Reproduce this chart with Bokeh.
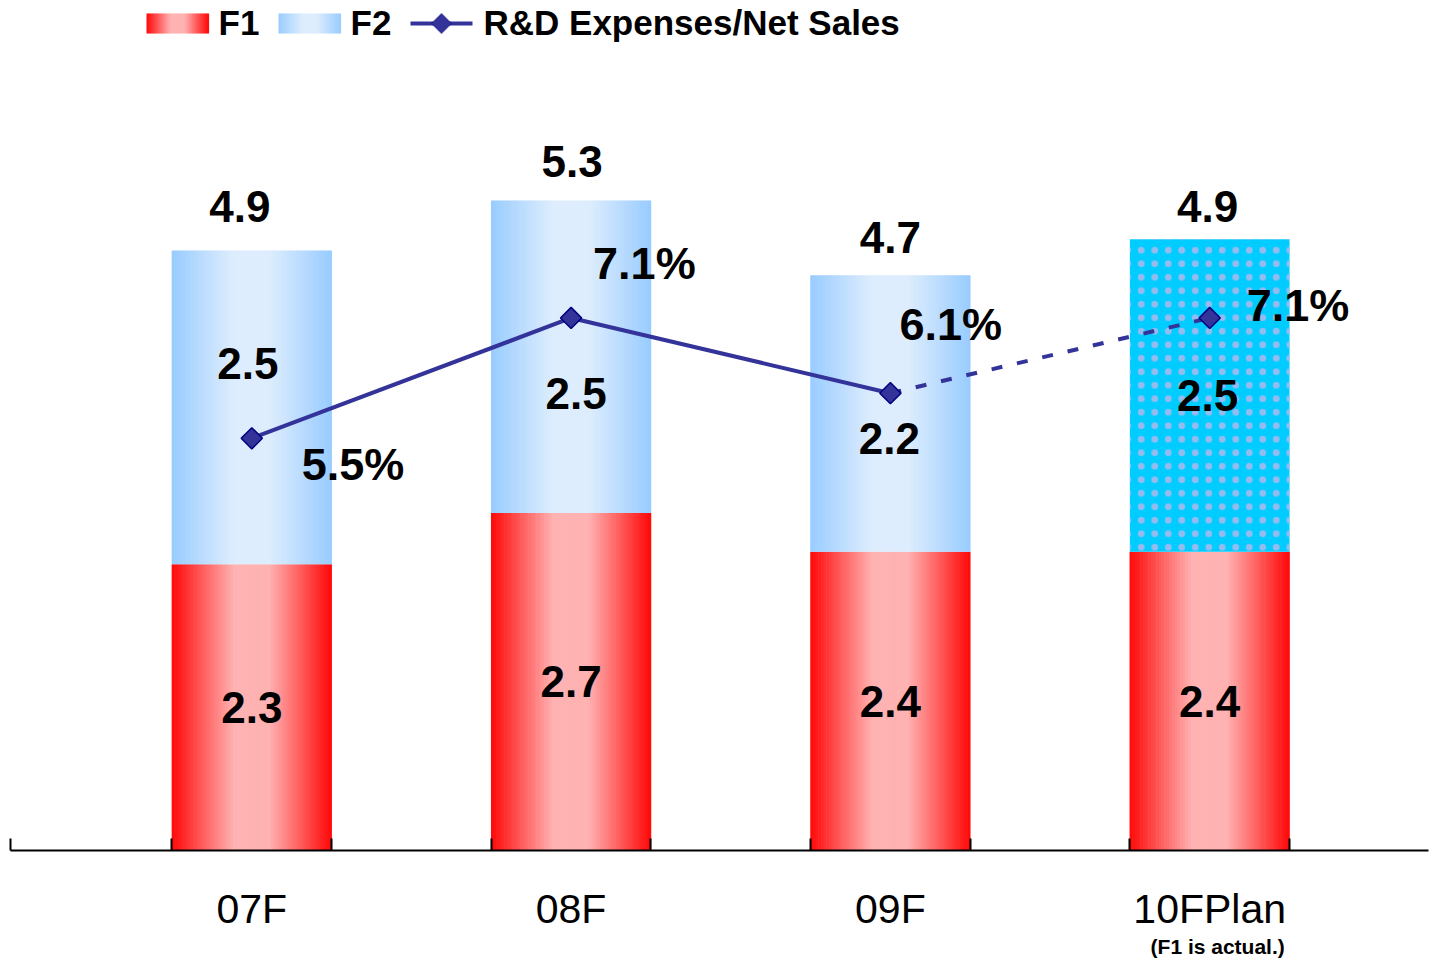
import numpy as np
from bokeh.plotting import figure
from bokeh.models import (ColumnDataSource, Range1d, LinearAxis, FixedTicker,
                          Label, BoxAnnotation, PolyAnnotation)
from bokeh.core.properties import value
from bokeh.embed import file_html
from bokeh.resources import INLINE

# ---------------- data ----------------
categories = ["07F", "08F", "09F", "10FPlan"]
f1 = [2.30, 2.71, 2.40, 2.40]
f2 = [2.52, 2.51, 2.22, 2.51]
is_plan = [False, False, False, True]
total_labels = ["4.9", "5.3", "4.7", "4.9"]
ratio = [5.5, 7.1, 6.1, 7.1]
ratio_labels = ["5.5%", "7.1%", "6.1%", "7.1%"]
plan_note = "(F1 is actual.)"
series_names = ["F1", "F2", "R&D Expenses/Net Sales"]

# ---------------- layout / style ----------------
W, H = 1430, 960
FRAME_L, FRAME_R = 10, 2
FRAME_H = 850
BAR_PX = 124.5      # px per unit of the bar scale
PCT_PX = 75.2       # px per % of the ratio scale
PCT_START = 0.0186
UNIT_PX = 319.3
X_START = -0.7557
X_END = X_START + (W - FRAME_L - FRAME_R) / UNIT_PX
BAR_W = 0.5
N_STRIPS = 60
FONT = "Liberation Sans"
NOTE_DX_PX = 8

total_dx = [-12, 1, 0, -2]
total_dy = [-44, -39, -38, -33]
f2_dx = [-4, 5, -1, -2]
f2_dy = [-44, 37, 25, 0]
pct_dx = [50, 22, 9, 37]
pct_dy = [26, -54, -69, -12]

# legend layout (pixels from the top-left of the picture)
LEG_Y = 23
LEG_SW_H = 20
LEG_SW_W = 62
leg_swatch_x = [146, 278]
leg_line_x = 410
leg_text_x = [218, 350, 483]

RED_C, RED_E = (255, 178, 178), (255, 8, 8)
BLUE_C, BLUE_E = (222, 237, 253), (153, 204, 255)
PLAN_FILL = "#00ccff"
LINE_C = "#333399"
MARK_EDGE = "#000080"


def gradient(center, edge, n):
    pos = (np.arange(n) + 0.5) / n
    t = np.abs(pos - 0.5) * 2
    f = np.clip((t - 0.22) / 0.78, 0, 1)
    c = np.array(center)[None, :] * (1 - f)[:, None] + np.array(edge)[None, :] * f[:, None]
    return ["#%02x%02x%02x" % tuple(int(round(v)) for v in row) for row in c]


def sx(px):   # picture px -> frame screen units
    return px - FRAME_L


def sy(py):
    return FRAME_H - py


idx = np.arange(len(categories))
f1a = np.array(f1)
f2a = np.array(f2)
tops = f1a + f2a

p = figure(width=W, height=H, output_backend="svg", toolbar_location=None,
           x_range=Range1d(X_START, X_END), y_range=Range1d(0, FRAME_H / BAR_PX),
           x_axis_type=None, y_axis_type=None,
           min_border_left=FRAME_L, min_border_right=FRAME_R, min_border_top=0,
           min_border_bottom=H - FRAME_H)
p.outline_line_color = None
p.background_fill_color = "white"
p.border_fill_color = "white"
p.extra_y_ranges = {"pct": Range1d(PCT_START, PCT_START + FRAME_H / PCT_PX)}

# ---------- bars as gradient strips ----------
offs = (np.arange(N_STRIPS) + 0.5) / N_STRIPS * BAR_W - BAR_W / 2
sw = BAR_W / N_STRIPS + 0.002
red_cols = gradient(RED_C, RED_E, N_STRIPS)
blue_cols = gradient(BLUE_C, BLUE_E, N_STRIPS)

n = len(categories)
f1_src = ColumnDataSource(dict(
    x=np.repeat(idx, N_STRIPS) + np.tile(offs, n),
    top=np.repeat(f1a, N_STRIPS),
    color=np.tile(red_cols, n)))
p.vbar(x="x", top="top", bottom=0, width=sw, fill_color="color",
       line_color=None, source=f1_src)

act = [i for i in idx if not is_plan[i]]
f2_src = ColumnDataSource(dict(
    x=np.repeat(idx[act], N_STRIPS) + np.tile(offs, len(act)),
    bottom=np.repeat(f1a[act], N_STRIPS),
    top=np.repeat(tops[act], N_STRIPS),
    color=np.tile(blue_cols, len(act))))
p.vbar(x="x", top="top", bottom="bottom", width=sw, fill_color="color",
       line_color=None, source=f2_src)

plan = [i for i in idx if is_plan[i]]
plan_src = ColumnDataSource(dict(x=idx[plan], bottom=f1a[plan], top=tops[plan]))
p.vbar(x="x", top="top", bottom="bottom", width=BAR_W, source=plan_src,
       fill_color=PLAN_FILL, line_color=None, hatch_pattern="dot",
       hatch_color="#96bbef", hatch_scale=13.5, hatch_weight=1.3)

# ---------- ratio line ----------
n_act = len(act)
p.line(idx[:n_act], ratio[:n_act], y_range_name="pct",
       line_color=LINE_C, line_width=4)
p.line(idx[n_act - 1:], ratio[n_act - 1:], y_range_name="pct",
       line_color=LINE_C, line_width=4, line_dash="11 15")
p.scatter(idx, ratio, y_range_name="pct", marker="square", angle=np.pi / 4,
          size=15, fill_color=LINE_C, line_color=MARK_EDGE, line_width=1.5)

# ---------- labels ----------
lab_font = value(FONT)
p.text(x=idx, y=f1a / 2, text=[f"{v:.1f}" for v in f1], text_font=lab_font,
       text_font_size="44px", text_font_style="bold", text_align="center",
       text_baseline="middle", text_color="black")
p.text(x=idx, y=f1a + f2a / 2, text=[f"{v:.1f}" for v in f2], text_font=lab_font,
       text_font_size="44px", text_font_style="bold", text_align="center",
       text_baseline="middle", text_color="black", x_offset=f2_dx, y_offset=f2_dy)
p.text(x=idx, y=tops, text=total_labels, text_font=lab_font,
       text_font_size="44px", text_font_style="bold", text_align="center",
       text_baseline="middle", text_color="black", x_offset=total_dx, y_offset=total_dy)
p.text(x=idx, y=ratio, y_range_name="pct", text=ratio_labels, text_font=lab_font,
       text_font_size="45px", text_font_style="bold", text_align="left",
       text_baseline="middle", text_color="black", x_offset=pct_dx, y_offset=pct_dy)

# ---------- axes ----------
edges = [X_START] + sorted(list(idx - BAR_W / 2) + list(idx + BAR_W / 2))
ax = LinearAxis(ticker=FixedTicker(ticks=list(idx), minor_ticks=edges),
                major_label_overrides={int(i): c for i, c in zip(idx, categories)})
ax.axis_line_color = "black"
ax.axis_line_width = 2
ax.major_tick_line_color = None
ax.major_tick_in = 0
ax.major_tick_out = 0
ax.minor_tick_line_color = "black"
ax.minor_tick_line_width = 2
ax.minor_tick_in = 12
ax.minor_tick_out = 0
ax.major_label_text_font = FONT
ax.major_label_text_font_size = "41px"
ax.major_label_text_color = "black"
ax.major_label_standoff = 35
p.add_layout(ax, "below")

note_x = float(idx[plan][0]) + NOTE_DX_PX / UNIT_PX
ax2 = LinearAxis(ticker=FixedTicker(ticks=[note_x], minor_ticks=[]),
                 major_label_overrides={note_x: plan_note})
ax2.axis_line_color = None
ax2.major_tick_line_color = None
ax2.minor_tick_line_color = None
ax2.major_tick_in = 0
ax2.major_tick_out = 0
ax2.minor_tick_in = 0
ax2.minor_tick_out = 0
ax2.major_label_text_font = FONT
ax2.major_label_text_font_size = "21px"
ax2.major_label_text_font_style = "bold"
ax2.major_label_text_color = "black"
ax2.major_label_standoff = 0
p.add_layout(ax2, "below")

# ---------- legend (drawn with screen-unit annotations) ----------
for k in range(2):
    lc = gradient(RED_C if k == 0 else BLUE_C, RED_E if k == 0 else BLUE_E, 31)
    stw = LEG_SW_W / len(lc)
    for j, c in enumerate(lc):
        x0 = leg_swatch_x[k] + j * stw
        p.add_layout(BoxAnnotation(
            left=sx(x0), right=sx(x0 + stw + 0.6),
            top=sy(LEG_Y - LEG_SW_H / 2), bottom=sy(LEG_Y + LEG_SW_H / 2),
            left_units="screen", right_units="screen",
            top_units="screen", bottom_units="screen",
            fill_color=c, fill_alpha=1, line_color=None, level="overlay"))

p.add_layout(BoxAnnotation(
    left=sx(leg_line_x), right=sx(leg_line_x + LEG_SW_W),
    top=sy(LEG_Y - 2), bottom=sy(LEG_Y + 2),
    left_units="screen", right_units="screen", top_units="screen", bottom_units="screen",
    fill_color=LINE_C, fill_alpha=1, line_color=None, level="overlay"))
cx = leg_line_x + LEG_SW_W / 2
p.add_layout(PolyAnnotation(
    xs=[sx(cx - 10), sx(cx), sx(cx + 10), sx(cx)],
    ys=[sy(LEG_Y), sy(LEG_Y - 10), sy(LEG_Y), sy(LEG_Y + 10)],
    xs_units="screen", ys_units="screen",
    fill_color=LINE_C, fill_alpha=1, line_color=MARK_EDGE, line_width=1.5,
    level="overlay"))

for name, tx in zip(series_names, leg_text_x):
    p.add_layout(Label(x=sx(tx), y=sy(LEG_Y - 1), x_units="screen", y_units="screen",
                       text=name, text_font=FONT, text_font_size="35px",
                       text_font_style="bold", text_align="left",
                       text_baseline="middle", text_color="black"))

open("out.html", "w").write(file_html(p, INLINE))
